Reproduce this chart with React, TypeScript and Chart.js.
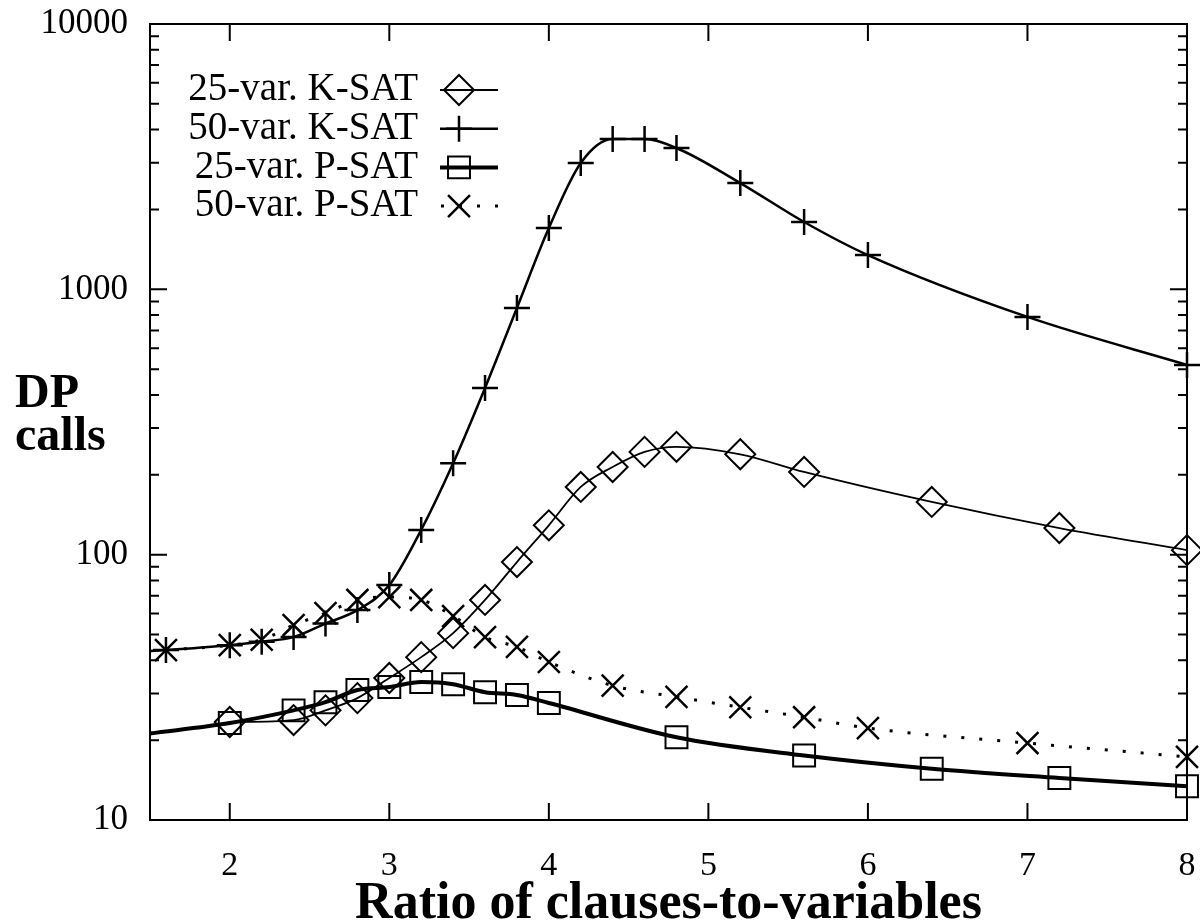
import React, { useEffect, useRef } from 'react';
import { Chart, registerables } from 'chart.js';

Chart.register(...registerables);

// ---------- data ----------
const seriesLabels = ['25-var. K-SAT', '50-var. K-SAT', '25-var. P-SAT', '50-var. P-SAT'];

const xK25 = [2.0, 2.4, 2.6, 2.8, 3.0, 3.2, 3.4, 3.6, 3.8, 4.0, 4.2, 4.4, 4.6, 4.8, 5.2, 5.6, 6.4, 7.2, 8.0];
const yK25 = [23.4, 23.8, 25.9, 28.8, 34.3, 41.1, 50.6, 67.5, 93.8, 129, 180, 214, 244, 255, 239, 205, 158, 126, 104];

const xK50 = [1.5, 1.6, 2.0, 2.2, 2.4, 2.6, 2.8, 3.0, 3.2, 3.4, 3.6, 3.8, 4.0, 4.2, 4.4, 4.6, 4.8, 5.2, 5.6, 6.0, 7.0, 8.0];
const yK50 = [43.3, 43.7, 45.6, 47.0, 48.9, 55.0, 61.8, 76.8, 124, 221, 425, 851, 1702, 2993, 3687, 3687, 3410, 2515, 1794, 1346, 787, 519];

const xP25 = [1.5, 2.0, 2.4, 2.6, 2.8, 3.0, 3.2, 3.4, 3.6, 3.8, 4.0, 4.8, 5.6, 6.4, 7.2, 8.0];
const yP25 = [21.2, 23.2, 25.9, 27.8, 30.9, 31.7, 33.1, 32.5, 30.3, 29.6, 27.6, 20.5, 17.5, 15.6, 14.4, 13.4];

const xP50 = [1.6, 2.0, 2.2, 2.4, 2.6, 2.8, 3.0, 3.2, 3.4, 3.6, 3.8, 4.0, 4.4, 4.8, 5.2, 5.6, 6.0, 7.0, 8.0];
const yP50 = [43.7, 45.6, 47.8, 54.3, 60.2, 67.5, 69.2, 67.5, 58.7, 48.9, 44.9, 39.4, 32.1, 29.1, 26.6, 24.4, 22.2, 19.5, 17.3];

// x where the curve starts without a marker (left edge)
const lineOnlyX = [1.5];

const xTickValues = [2, 3, 4, 5, 6, 7, 8];
const yTickLabelValues = [10, 100, 1000, 10000];

const xTitle = 'Ratio of clauses-to-variables';
const yTitleLines = ['DP', 'calls'];

// ---------- helpers ----------
const FONT = '"Liberation Serif", "Times New Roman", serif';

function pts(xs: number[], ys: number[]) {
  return xs.map((x, i) => ({ x, y: ys[i] }));
}
function radii(xs: number[], r: number) {
  return xs.map((x) => (lineOnlyX.includes(x) ? 0 : r));
}

function drawMarker(ctx: CanvasRenderingContext2D, style: string, x: number, y: number, r: number, lw: number) {
  ctx.save();
  ctx.lineWidth = lw;
  ctx.setLineDash([]);
  ctx.beginPath();
  if (style === 'rectRot') {
    ctx.moveTo(x - r, y); ctx.lineTo(x, y - r); ctx.lineTo(x + r, y); ctx.lineTo(x, y + r); ctx.closePath();
  } else if (style === 'cross') {
    ctx.moveTo(x - r, y); ctx.lineTo(x + r, y); ctx.moveTo(x, y - r); ctx.lineTo(x, y + r);
  } else if (style === 'rect') {
    const h = r * Math.SQRT1_2;
    ctx.rect(x - h, y - h, 2 * h, 2 * h);
  } else if (style === 'crossRot') {
    const h = r * Math.SQRT1_2;
    ctx.moveTo(x - h, y - h); ctx.lineTo(x + h, y + h); ctx.moveTo(x - h, y + h); ctx.lineTo(x + h, y - h);
  }
  ctx.stroke();
  ctx.restore();
}

const decorPlugin = {
  id: 'decor',
  beforeDraw(chart: any) {
    const ctx = chart.ctx;
    ctx.save();
    ctx.fillStyle = '#ffffff';
    ctx.fillRect(0, 0, chart.width, chart.height);
    ctx.restore();
  },
  afterDraw(chart: any) {
    const { ctx, chartArea: a, scales } = chart;
    const xs = scales.x;
    const ys = scales.y;
    ctx.save();
    ctx.strokeStyle = '#000';
    ctx.fillStyle = '#000';
    ctx.lineWidth = 2;
    ctx.setLineDash([]);
    ctx.strokeRect(a.left, a.top, a.right - a.left, a.bottom - a.top);

    const major = 17;
    const minor = 9;
    ctx.beginPath();
    for (const v of xTickValues) {
      const px = xs.getPixelForValue(v);
      ctx.moveTo(px, a.bottom); ctx.lineTo(px, a.bottom - major);
      ctx.moveTo(px, a.top); ctx.lineTo(px, a.top + major);
    }
    for (let dec = 10; dec <= 10000; dec *= 10) {
      for (let m = 1; m <= 9; m++) {
        const v = dec * m;
        if (v > 10000) break;
        const len = m === 1 ? major : minor;
        const py = ys.getPixelForValue(v);
        ctx.moveTo(a.left, py); ctx.lineTo(a.left + len, py);
        ctx.moveTo(a.right, py); ctx.lineTo(a.right - len, py);
      }
    }
    ctx.stroke();

    // y title (horizontal, two lines)
    ctx.font = `bold 48px ${FONT}`;
    ctx.textAlign = 'left';
    ctx.textBaseline = 'alphabetic';
    ctx.fillText(yTitleLines[0], 15, 407);
    ctx.fillText(yTitleLines[1], 15, 450);

    // legend
    ctx.font = `39px ${FONT}`;
    ctx.textAlign = 'right';
    ctx.textBaseline = 'middle';
    chart.data.datasets.forEach((ds: any, i: number) => {
      const y = 90 + i * 38.7;
      ctx.fillText(ds.label, 418, y);
      ctx.save();
      ctx.lineWidth = ds.borderWidth;
      ctx.setLineDash(ds.borderDash || []);
      ctx.lineDashOffset = ds.borderDash ? -1 : 0;
      ctx.beginPath();
      ctx.moveTo(440, y);
      ctx.lineTo(498, y);
      ctx.stroke();
      ctx.restore();
      const r = Array.isArray(ds.pointRadius) ? Math.max(...ds.pointRadius) : ds.pointRadius;
      drawMarker(ctx, ds.pointStyle, 459, y, r, ds.pointBorderWidth);
    });
    ctx.restore();
  },
};

export default function App() {
  const ref = useRef<HTMLCanvasElement | null>(null);

  useEffect(() => {
    if (!ref.current) return;
    const common = {
      borderColor: '#000',
      pointBorderColor: '#000',
      pointBackgroundColor: 'rgba(0,0,0,0)',
      cubicInterpolationMode: 'monotone' as const,
      fill: false,
      clip: false as any,
      pointHoverRadius: 0,
    };
    const chart = new Chart(ref.current, {
      type: 'line',
      data: {
        datasets: [
          {
            ...common,
            label: seriesLabels[0],
            data: pts(xK25, yK25),
            borderWidth: 1.8,
            pointStyle: 'rectRot',
            pointRadius: radii(xK25, 15),
            pointBorderWidth: 2,
          },
          {
            ...common,
            label: seriesLabels[1],
            data: pts(xK50, yK50),
            borderWidth: 2.5,
            pointStyle: 'cross',
            pointRadius: radii(xK50, 13),
            pointBorderWidth: 2.5,
          },
          {
            ...common,
            label: seriesLabels[2],
            data: pts(xP25, yP25),
            borderWidth: 4,
            pointStyle: 'rect',
            pointRadius: radii(xP25, 15.5),
            pointBorderWidth: 2,
          },
          {
            ...common,
            label: seriesLabels[3],
            data: pts(xP50, yP50),
            borderWidth: 3,
            borderDash: [3, 15],
            pointStyle: 'crossRot',
            pointRadius: radii(xP50, 15.5),
            pointBorderWidth: 2.5,
          },
        ] as any,
      },
      options: {
        animation: false,
        responsive: false,
        devicePixelRatio: 1,
        events: [],
        layout: { autoPadding: false, padding: { left: 0, right: 13, top: 24, bottom: 0 } },
        plugins: {
          legend: { display: false },
          tooltip: { enabled: false },
        },
        scales: {
          x: {
            type: 'linear',
            min: 1.5,
            max: 8,
            grid: { display: false, drawTicks: false },
            border: { display: false },
            afterBuildTicks: (s: any) => { s.ticks = xTickValues.map((v) => ({ value: v })); },
            ticks: {
              autoSkip: false,
              maxRotation: 0,
              padding: 26,
              color: '#000',
              font: { family: FONT, size: 34 },
              callback: (v: any) => String(v),
            },
            title: {
              display: true,
              text: xTitle,
              color: '#000',
              padding: 0,
              font: { family: FONT, size: 52, weight: 'bold', lineHeight: 0.76 },
            },
            afterFit: (s: any) => { s.height = 104; s.paddingLeft = 0; s.paddingRight = 0; },
          },
          y: {
            type: 'logarithmic',
            min: 10,
            max: 10000,
            grid: { display: false, drawTicks: false },
            border: { display: false },
            afterBuildTicks: (s: any) => { s.ticks = yTickLabelValues.map((v) => ({ value: v, major: true })); },
            ticks: {
              autoSkip: false,
              padding: 22,
              color: '#000',
              font: { family: FONT, size: 35 },
              callback: (v: any) => String(v),
            },
            afterFit: (s: any) => { s.width = 150; s.paddingTop = 0; s.paddingBottom = 0; },
          },
        },
      } as any,
      plugins: [decorPlugin],
    });
    return () => chart.destroy();
  }, []);

  return (
    <div style={{ position: 'fixed', left: 0, top: 0, width: 1200, height: 924, background: '#fff' }}>
      <canvas ref={ref} width={1200} height={924} style={{ display: 'block' }} />
    </div>
  );
}
